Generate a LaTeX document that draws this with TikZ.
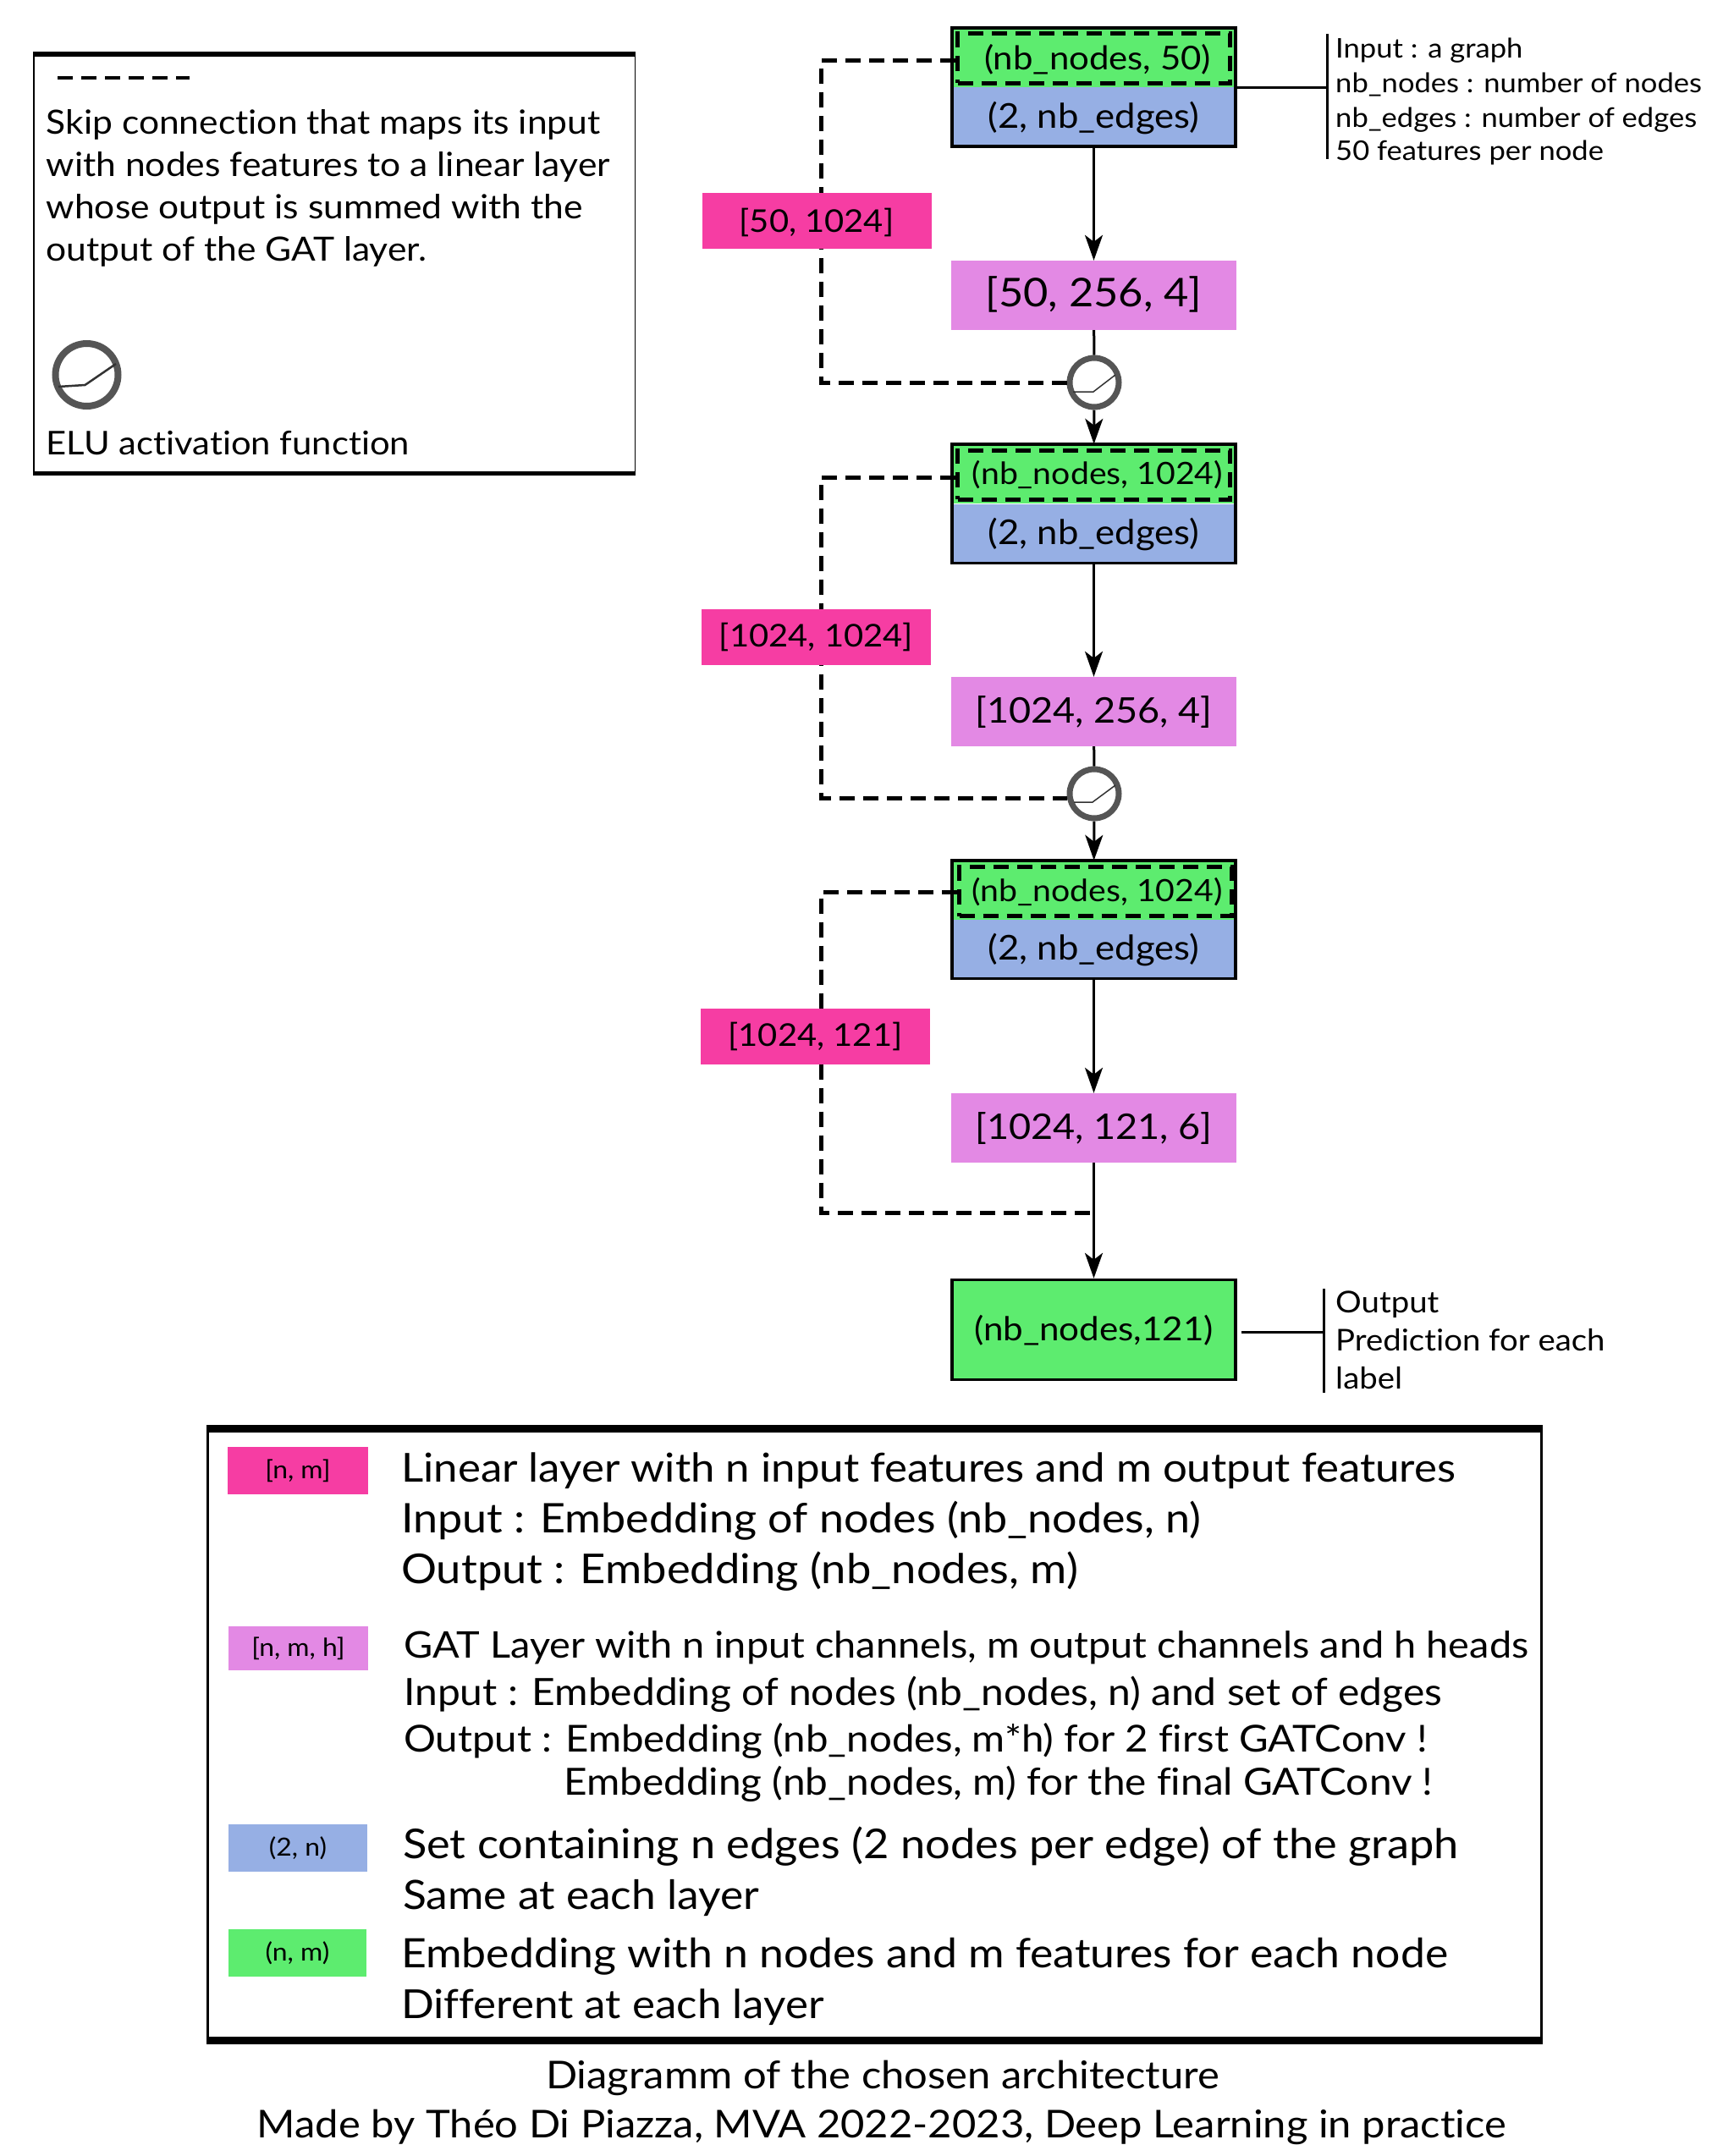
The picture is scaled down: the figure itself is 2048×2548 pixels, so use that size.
\documentclass[tikz,border=0pt]{standalone}
\usepackage{fontspec}
\setmainfont{Lato}[FakeStretch=1.08, Ligatures=NoCommon]
\usetikzlibrary{arrows.meta}
\newcommand{\fsz}[1]{\fontsize{#1}{#1}\selectfont}
\definecolor{edgeblue}{HTML}{96AFE4}
\definecolor{embgreen}{HTML}{5DEC6F}
\definecolor{gatviolet}{HTML}{E389E4}
\definecolor{linpink}{HTML}{F63DA3}
\definecolor{ringgray}{HTML}{555555}
\tikzset{
    shapebox/.style={rectangle, inner sep=0pt, text height=26pt, text depth=0pt},
    embbox/.style={shapebox, fill=embgreen, minimum width=335pt, minimum height=70pt},
    edgebox/.style={shapebox, fill=edgeblue, minimum width=335pt, minimum height=70pt, font=\fsz{40.4}},
    gatbox/.style={shapebox, fill=gatviolet, minimum width=337pt, minimum height=82pt, font=\fsz{41.7}},
    linbox/.style={shapebox, fill=linpink, minimum width=271pt, minimum height=66pt, font=\fsz{37}},
    dashbox/.style={shapebox, draw, line width=5pt, dash pattern=on 18pt off 10pt, minimum width=322pt, minimum height=58pt, font=\fsz{36.3}},
    keybox/.style={shapebox, text height=18pt, font=\fsz{29.5}},
    elu/.style={circle, draw=ringgray, line width=7pt, fill=white, minimum size=58pt, inner sep=0pt},
    ramp/.style={line width=1.5pt, black!80},
    frame/.style={line width=3.5pt},
    flow/.style={line width=3pt, -{Stealth[length=30pt, width=21pt, inset=8pt]}},
    plain/.style={line width=3pt},
    skipline/.style={line width=5pt, dash pattern=on 18pt off 10pt},
    txt/.style={anchor=base west, inner sep=0pt},
    sidetxt/.style={txt, font=\fsz{32}},
    notetxt/.style={txt, font=\fsz{39.4}},
    mainkey/.style={txt, font=\fsz{48.2}},
    gatkey/.style={txt, font=\fsz{44.2}},
    capt/.style={anchor=base, inner sep=0pt, font=\fsz{45.3}}
}
\begin{document}
\begin{tikzpicture}[x=1pt, y=-1pt]
        \useasboundingbox (0,0) rectangle (2048,2548);

        \node[draw, line width=1.5pt, minimum width=710.5pt, minimum height=494pt] (notebox) at (395,311.75) {};
        \draw[line width=5.5pt] (notebox.north west) -- (notebox.north east);
        \draw[line width=5.5pt] (notebox.south west) -- (notebox.south east);
        \coordinate (dashl) at (68,92);
        \coordinate (dashr) at (224,92);
        \draw[line width=4pt, dash pattern=on 18pt off 10pt] (dashl) -- (dashr);
        \node[notetxt] (note1) at (54.5,158) {Skip connection that maps its input};
        \node[notetxt] (note2) at (54.5,208) {with nodes features to a linear layer};
        \node[notetxt] (note3) at (54.5,258) {whose output is summed with the};
        \node[notetxt] (note4) at (54.5,308) {output of the GAT layer.};
        \node[elu, line width=8pt, minimum size=74pt] (elukey) at (102.5,443) {};
        \draw[ramp, line width=2.5pt] ([shift={(-33.5,14)}]elukey.center) -- ++(31.5,-2) -- ++(36.5,-25);
        \node[notetxt, font=\fsz{38.7}] (note5) at (54.5,537) {ELU activation function};

        \node[embbox] (emb1) at (1292.5,68) {};
        \node[edgebox] (edge1) at (1292.5,138) {(2, nb\_edges)};
        \node[dashbox, font=\fsz{38.8}] (dash1) at (1292.5,69) {\hspace{9pt}(nb\_nodes, 50)};
        \draw[frame] (emb1.north west) rectangle (edge1.south east);
        \node[gatbox, font=\fsz{46.8}] (gat1) at (1292.5,349) {[50, 256, 4]};
        \node[elu] (elu1) at (1293,452) {};
        \draw[ramp] ([shift={(-25,11)}]elu1.center) -- ++(24,0) -- ++(26,-20);

        \node[embbox] (emb2) at (1292.5,560) {};
        \node[edgebox] (edge2) at (1292.5,630.5) {(2, nb\_edges)};
        \node[dashbox, text height=23pt] (dash2) at (1292.5,561) {\hspace{9pt}(nb\_nodes, 1024)};
        \draw[frame] (emb2.north west) rectangle (edge2.south east);
        \node[gatbox] (gat2) at (1292.5,841) {[1024, 256, 4]};
        \node[elu] (elu2) at (1293,938) {};
        \draw[ramp] ([shift={(-24,10)}]elu2.center) -- ++(22,0) -- ++(27,-20);

        \node[embbox] (emb3) at (1292.5,1052) {};
        \node[edgebox] (edge3) at (1292.5,1121.5) {(2, nb\_edges)};
        \node[dashbox, text height=23pt] (dash3) at (1294.5,1053.5) {\hspace{4pt}(nb\_nodes, 1024)};
        \draw[frame] (emb3.north west) rectangle (edge3.south east);
        \node[gatbox] (gat3) at (1292.5,1333) {[1024, 121, 6]};

        \node[shapebox, draw, fill=embgreen, line width=3.5pt, minimum width=335pt, minimum height=118pt, font=\fsz{39}] (out) at (1292.5,1571.5) {(nb\_nodes,121)};

        \draw[flow] (edge1) -- (gat1);
        \draw[line width=3pt] (gat1) -- (elu1);
        \draw[flow] (elu1) -- (emb2);
        \draw[flow] (edge2) -- (gat2);
        \draw[line width=3pt] (gat2) -- (elu2);
        \draw[flow] (elu2) -- (emb3);
        \draw[flow] (edge3) -- (gat3);
        \draw[flow] (gat3) -- (out);

        \coordinate (turn1) at (970,72);
        \coordinate (turn2) at (970,564);
        \coordinate (turn3) at (970,1054.5);
        \coordinate (merge) at (1292.5,1433.5);
        \draw[skipline] ([yshift=-3pt]dash1.west) -- (turn1) |- (elu1.west);
        \draw[skipline] ([yshift=-3pt]dash2.west) -- (turn2) |- ([yshift=-5pt]elu2.west);
        \draw[skipline] ([yshift=-1pt]dash3.west) -- (turn3) |- (merge);

        \node[linbox] (lin1) at (965,261) {[50, 1024]};
        \node[linbox, text height=23pt] (lin2) at (964.5,753) {[1024, 1024]};
        \node[linbox, text height=23pt] (lin3) at (963.5,1225) {[1024, 121]};

        \coordinate (side1a) at (1568,40);
        \coordinate (side1b) at (1568,188);
        \draw[plain] (side1a) -- (side1b);
        \draw[plain] (emb1.south east) -- (emb1.south east -| side1a);
        \node[sidetxt] (side1) at (1578,69) {Input : a graph};
        \node[sidetxt] (side2) at (1578,109) {nb\_nodes : number of nodes};
        \node[sidetxt] (side3) at (1578,150) {nb\_edges : number of edges};
        \node[sidetxt] (side4) at (1578,189) {50 features per node};

        \coordinate (side2a) at (1564,1523);
        \coordinate (side2b) at (1564,1646);
        \draw[plain] (side2a) -- (side2b);
        \draw[plain] ([xshift=5pt,yshift=-3pt]out.east) -- ([yshift=-3pt]out.east -| side2a);
        \node[sidetxt, font=\fsz{35.5}] (side5) at (1578,1551) {Output};
        \node[sidetxt, font=\fsz{35.5}] (side6) at (1578,1596) {Prediction for each};
        \node[sidetxt, font=\fsz{35.5}] (side7) at (1578,1641) {label};

        \node[draw, line width=3pt, minimum width=1576pt, minimum height=720pt] (legend) at (1033.5,2050) {};
        \draw[line width=9pt] (legend.north west) -- (legend.north east);
        \draw[line width=9pt] (legend.south west) -- (legend.south east);

        \node[keybox, fill=linpink, minimum width=166pt, minimum height=56pt] (key1) at (352,1738) {[n, m]};
        \node[mainkey, font=\fsz{47.2}] (lin1txt) at (474,1751) {Linear layer with n input features and m output features};
        \node[mainkey] (lin2txt) at (474,1811) {Input : Embedding of nodes (nb\_nodes, n)};
        \node[mainkey, font=\fsz{48.6}] (lin3txt) at (474,1871) {Output : Embedding (nb\_nodes, m)};

        \node[keybox, fill=gatviolet, minimum width=165pt, minimum height=52pt] (key2) at (352.5,1948) {[n, m, h]};
        \node[gatkey, font=\fsz{43.4}] (gat1txt) at (477,1959) {GAT Layer with n input channels, m output channels and h heads};
        \node[gatkey, font=\fsz{44.4}] (gat2txt) at (477,2015) {Input : Embedding of nodes (nb\_nodes, n) and set of edges};
        \node[gatkey, font=\fsz{43.9}] (gat3txt) at (477,2070) {Output : Embedding (nb\_nodes, m*h) for 2 first GATConv !};
        \node[gatkey] (gat4txt) at (666,2121) {Embedding (nb\_nodes, m) for the final GATConv !};

        \node[keybox, fill=edgeblue, minimum width=164pt, minimum height=56pt] (key3) at (352,2184) {(2, n)};
        \node[mainkey, font=\fsz{48.5}] (edge1txt) at (476,2196) {Set containing n edges (2 nodes per edge) of the graph};
        \node[mainkey, font=\fsz{47.7}] (edge2txt) at (476,2256) {Same at each layer};

        \node[keybox, fill=embgreen, minimum width=163pt, minimum height=56pt] (key4) at (351.5,2308) {(n, m)};
        \node[mainkey, font=\fsz{47.9}] (emb1txt) at (474,2325) {Embedding with n nodes and m features for each node};
        \node[mainkey, font=\fsz{47.3}] (emb2txt) at (474,2385) {Different at each layer};

        \node[capt] (capt1) at (1043,2468) {Diagramm of the chosen architecture};
        \node[capt] (capt2) at (1042,2526) {Made by Théo Di Piazza, MVA 2022-2023, Deep Learning in practice};
    \end{tikzpicture}
\end{document}
